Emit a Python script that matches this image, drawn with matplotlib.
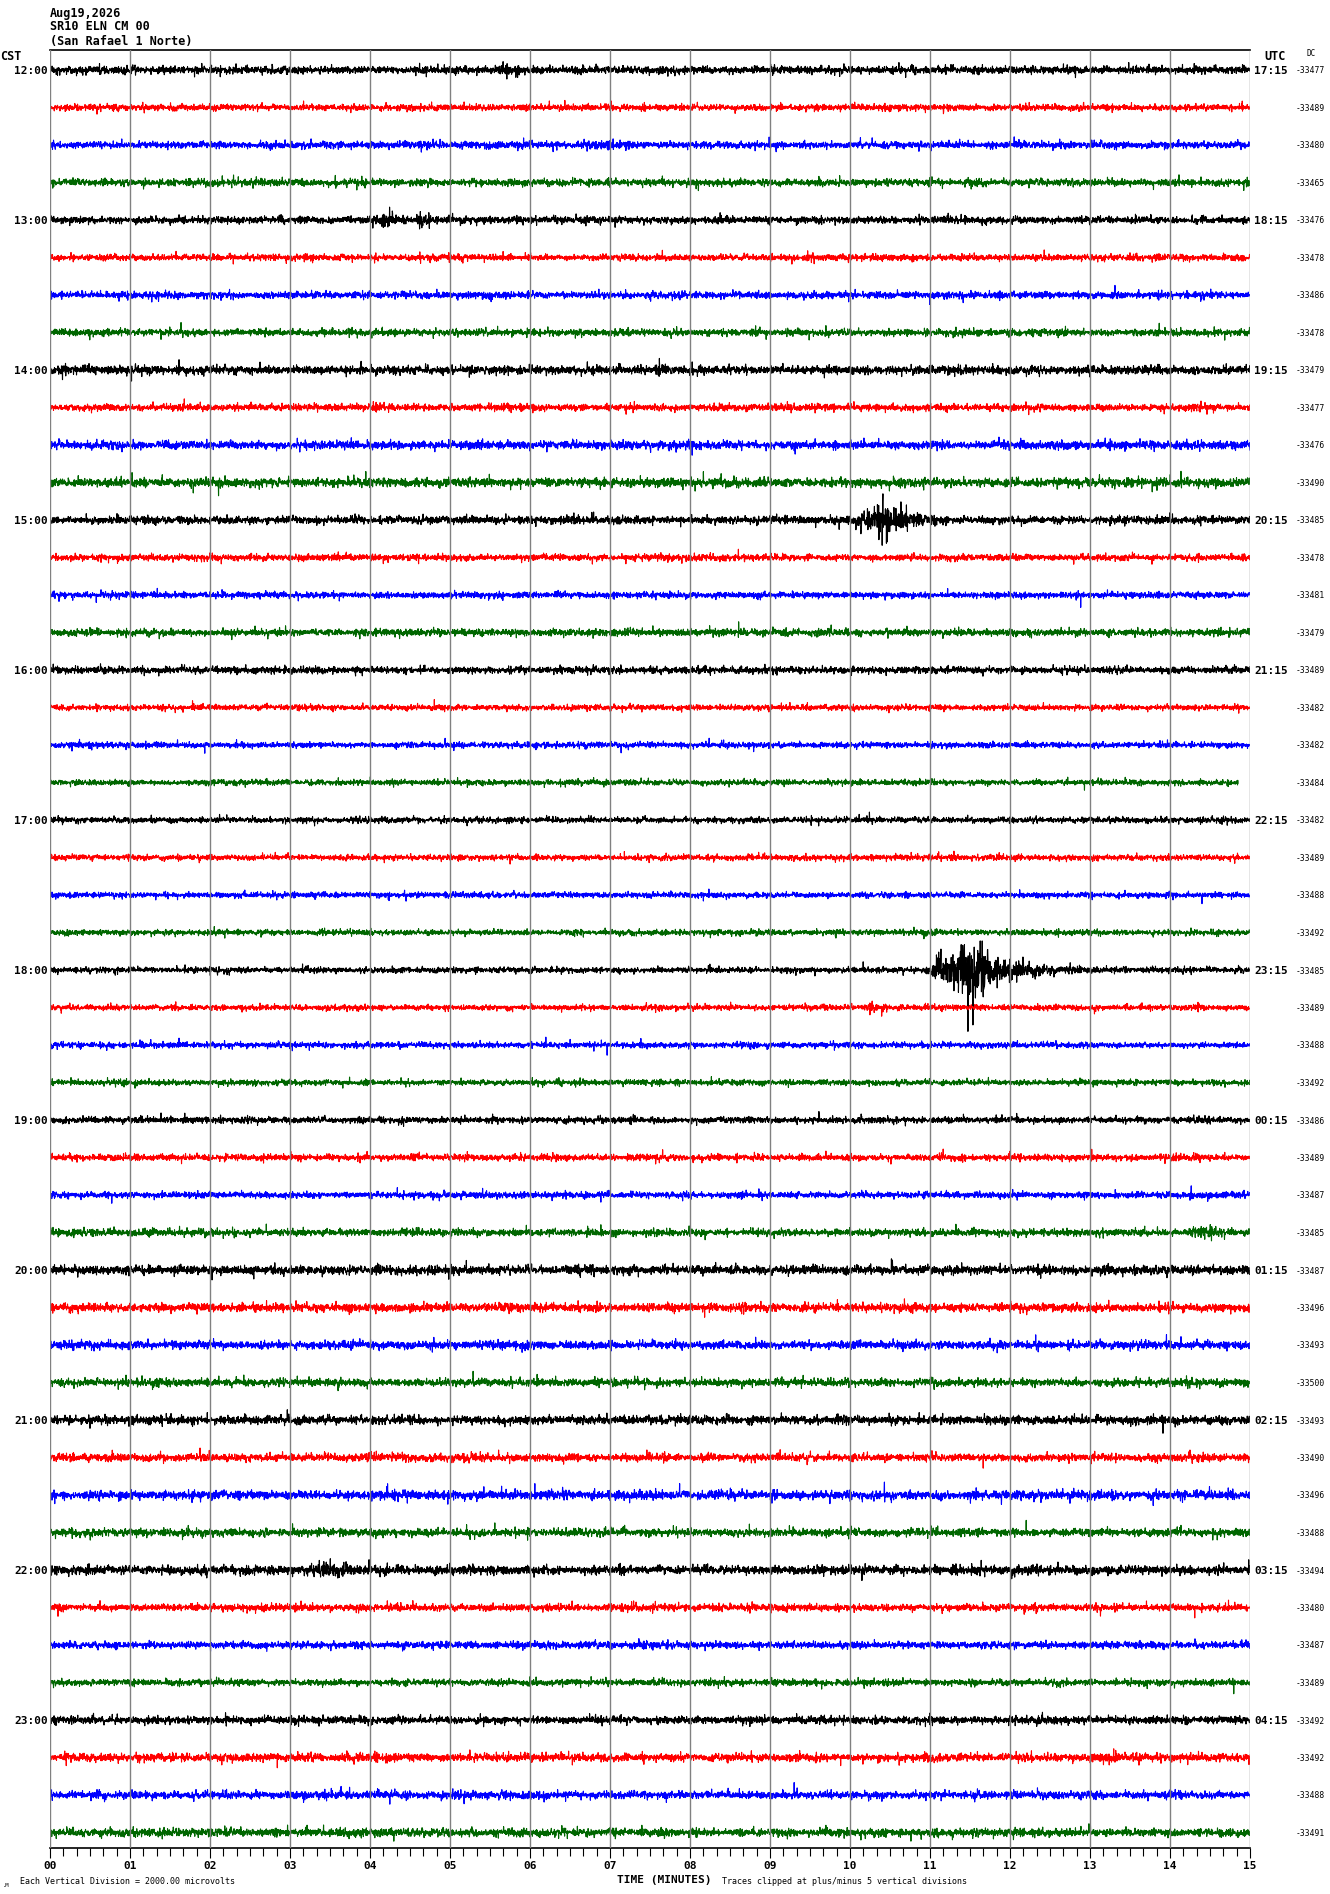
import numpy as np
import matplotlib
matplotlib.use("Agg")
import matplotlib.pyplot as plt
from matplotlib.ticker import MultipleLocator

# ---------------- data ----------------
title_lines = ["Aug19,2026", "SR10 ELN CM 00", "(San Rafael 1 Norte)"]
cst_labels = ["12:00", "13:00", "14:00", "15:00", "16:00", "17:00",
              "18:00", "19:00", "20:00", "21:00", "22:00", "23:00"]
utc_labels = ["17:15", "18:15", "19:15", "20:15", "21:15", "22:15",
              "23:15", "00:15", "01:15", "02:15", "03:15", "04:15"]
minute_labels = ["00", "01", "02", "03", "04", "05", "06", "07",
                 "08", "09", "10", "11", "12", "13", "14", "15"]
dc_values = [-33477, -33489, -33480, -33465,
             -33476, -33478, -33486, -33478,
             -33479, -33477, -33476, -33490,
             -33485, -33478, -33481, -33479,
             -33489, -33482, -33482, -33484,
             -33482, -33489, -33488, -33492,
             -33485, -33489, -33488, -33492,
             -33486, -33489, -33487, -33485,
             -33487, -33496, -33493, -33500,
             -33493, -33490, -33496, -33488,
             -33494, -33480, -33487, -33489,
             -33492, -33492, -33488, -33491]
# relative background noise level of each trace
noise_level = [1.2, 1.0, 1.1, 1.1,
               1.1, 1.0, 1.1, 1.1,
               1.3, 1.1, 1.3, 1.4,
               1.2, 1.0, 1.0, 1.1,
               1.1, 0.9, 0.9, 0.9,
               0.9, 0.9, 0.9, 0.9,
               0.9, 0.9, 0.9, 0.9,
               1.0, 1.0, 1.0, 1.1,
               1.4, 1.3, 1.3, 1.2,
               1.3, 1.2, 1.4, 1.2,
               1.4, 1.1, 1.1, 1.0,
               1.2, 1.3, 1.2, 1.3]
# minute at which each trace ends
trace_end = [15.0] * 19 + [14.85] + [15.0] * 28
# events: trace index, start minute, peak minute, end minute, peak level (x background)
event_trace = [12, 24, 4, 4, 40, 25, 21, 31, 45, 2, 0, 8]
event_start = [10.0, 10.94, 3.95, 4.55, 3.3, 10.15, 12.9, 14.15, 13.0, 6.5, 5.5, 7.5]
event_peak = [10.45, 11.5, 4.2, 4.62, 3.5, 10.3, 13.05, 14.4, 13.25, 6.9, 5.7, 7.65]
event_end = [11.1, 12.6, 4.8, 4.9, 3.9, 10.6, 13.5, 14.9, 13.6, 7.6, 6.0, 7.9]
event_level = [5.5, 12.0, 2.0, 2.8, 2.2, 1.8, 1.6, 2.2, 2.0, 1.5, 1.6, 1.6]
colors = ["#000000", "#ff0000", "#0000ff", "#006600"]

# ---------------- figure ----------------
W, H, DPI = 1330, 1894, 100
fig = plt.figure(figsize=(W / DPI, H / DPI), dpi=DPI)
left_px, right_px, top_px, bottom_px = 50, 1250, 50, 1848
first_px, spacing_px = 70, 37.5
ax = fig.add_axes([left_px / W, 1 - bottom_px / H,
                   (right_px - left_px) / W, (bottom_px - top_px) / H])
ax.set_xlim(0, 15)
ylim = ((bottom_px - first_px) / spacing_px, -(first_px - top_px) / spacing_px)
ax.set_ylim(*ylim)

rng = np.random.default_rng(11)
base_std = 1.5 / spacing_px / 1.12
samples_per_min = 320
for i in range(48):
    t = np.linspace(0, trace_end[i], int(samples_per_min * trace_end[i]))
    env = np.ones_like(t)
    for tr, s, p, e, a in zip(event_trace, event_start, event_peak, event_end, event_level):
        if tr != i:
            continue
        shape = np.where(t < s, 0.0,
                         np.where(t < p, (t - s) / (p - s),
                                  np.exp(-3.0 * (t - p) / (e - p))))
        env = env + (a - 1) * shape
    y = rng.standard_t(10, t.size) * base_std * noise_level[i] * env
    ax.plot(t, i + y, color=colors[i % 4], lw=0.8, zorder=2)

mono = "DejaVu Sans Mono"
ax.set_xticks(range(16))
ax.set_xticklabels(minute_labels)
ax.xaxis.set_minor_locator(MultipleLocator(1 / 6))
ax.grid(axis="x", which="major", color="#808080", lw=1.0)
ax.set_axisbelow(False)
ax.tick_params(axis="x", which="major", length=7, width=0.8, direction="out",
               pad=2.5, labelsize=8)
ax.tick_params(axis="x", which="minor", length=5.5, width=0.8, direction="out")
for lab in ax.get_xticklabels():
    lab.set_fontfamily(mono)
    lab.set_fontweight("bold")

ax.set_yticks(range(0, 48, 4))
ax.set_yticklabels(cst_labels)
ax.tick_params(axis="y", length=0, pad=1.5, labelsize=8)
for lab in ax.get_yticklabels():
    lab.set_fontfamily(mono)
    lab.set_fontweight("bold")

for s in ["left", "right"]:
    ax.spines[s].set_visible(False)
for s in ["top", "bottom"]:
    ax.spines[s].set_color("black")
    ax.spines[s].set_linewidth(1.2)

ax2 = ax.twinx()
ax2.set_ylim(*ylim)
ax2.set_yticks(range(0, 48, 4))
ax2.set_yticklabels(utc_labels)
ax2.tick_params(axis="y", length=0, pad=3, labelsize=8)
for lab in ax2.get_yticklabels():
    lab.set_fontfamily(mono)
    lab.set_fontweight("bold")

ax3 = ax.twinx()
ax3.set_ylim(*ylim)
ax3.set_yticks(range(48))
ax3.set_yticklabels([str(v) for v in dc_values])
ax3.tick_params(axis="y", length=0, pad=33, labelsize=5.8)
for lab in ax3.get_yticklabels():
    lab.set_fontfamily(mono)
for a in (ax2, ax3):
    for s in a.spines.values():
        s.set_visible(False)


def ftext(x, y, s, **kw):
    kw.setdefault("family", mono)
    kw.setdefault("va", "center")
    fig.text(x / W, 1 - y / H, s, **kw)


for k, line in enumerate(title_lines):
    ftext(50, 13 + 14 * k, line, fontsize=8.5, weight="bold")
ftext(0, 57, "CST", fontsize=8.5, weight="bold")
ftext(1275, 56, "UTC", fontsize=8.5, weight="bold", ha="center")
ftext(1311, 54, "DC", fontsize=5.5, ha="center")
ftext(664, 1880, "TIME (MINUTES)", fontsize=8, weight="bold", ha="center")
ftext(20, 1881, "Each Vertical Division = 2000.00 microvolts", fontsize=6)
ftext(722, 1881, "Traces clipped at plus/minus 5 vertical divisions", fontsize=6)
ftext(3, 1885, ".M", fontsize=4)

fig.savefig("out.png", dpi=DPI, facecolor="white")
